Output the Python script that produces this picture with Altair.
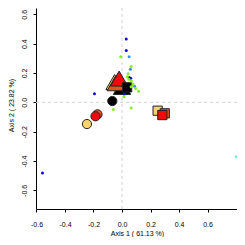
import altair as alt
import pandas as pd

# ---- small points (species / taxa scores) ----
sm_x = [0.030, 0.030, 0.050, 0.061, 0.016, -0.193, -0.558,
        0.050, 0.059, 0.088,
        -0.009, 0.064, 0.043, 0.037, 0.048, 0.066, 0.077, 0.064, 0.095, 0.116, 0.014, 0.064, -0.061,
        0.800]
sm_y = [0.431, 0.354, 0.170, 0.164, 0.057, 0.059, -0.482,
        0.311, 0.225, 0.109,
        0.311, 0.245, 0.195, 0.175, 0.157, 0.145, 0.125, 0.106, 0.095, 0.075, 0.038, -0.039, -0.048,
        -0.371]
sm_group = ["g1"] * 7 + ["g2"] * 3 + ["g3"] * 13 + ["g4"]

# ---- large symbols (sample scores), drawn in this order ----
bg_x = [-0.068, -0.246, -0.172, -0.186,
        0.000, -0.052, -0.044, -0.020,
        0.036, 0.250, 0.300, 0.283]
bg_y = [0.009, -0.148, -0.082, -0.095,
        0.105, 0.138, 0.130, 0.162,
        0.102, -0.057, -0.075, -0.087]
bg_treat = ["control", "low", "mid", "high"] * 3
bg_time = ["t1"] * 4 + ["t2"] * 4 + ["t3"] * 4

x_ticks = [-0.6, -0.4, -0.2, 0.0, 0.2, 0.4, 0.6]
y_ticks = [-0.6, -0.4, -0.2, 0.0, 0.2, 0.4, 0.6]

small = pd.DataFrame({"x": sm_x, "y": sm_y, "group": sm_group})
big = pd.DataFrame({"x": bg_x, "y": bg_y, "treat": bg_treat, "time": bg_time,
                    "order": list(range(len(bg_x)))})

FONT = "Liberation Sans"
xs = alt.Scale(domain=[-0.6035, 0.807], nice=False, zero=False)
ys = alt.Scale(domain=[-0.727, 0.643], nice=False, zero=False)

lab_expr = "replace(format(datum.value, '.1f'), '\u2212', '-')"

xaxis = alt.Axis(values=x_ticks, title="Axis 1 ( 61.13 %)", grid=False,
                 labelExpr=lab_expr, labelFont=FONT, labelFontSize=7, labelColor="black",
                 labelBaseline="alphabetic", labelPadding=14, labelOverlap=False, labelFlush=False,
                 tickSize=3, tickColor="black", domainColor="black", domainWidth=1,
                 titleFont=FONT, titleFontSize=7, titleFontWeight="normal", titleColor="black",
                 titleX=101, titleY=26, titleBaseline="alphabetic", titleAlign="center")
yaxis = alt.Axis(values=y_ticks, title="Axis 2 ( 23.82 %)", grid=False,
                 labelExpr=lab_expr, labelFont=FONT, labelFontSize=7, labelColor="black",
                 labelAngle=270, labelAlign="center", labelBaseline="alphabetic",
                 labelPadding=7, labelOverlap=False, labelFlush=False,
                 tickSize=3, tickColor="black", domainColor="black", domainWidth=1,
                 titleFont=FONT, titleFontSize=7, titleFontWeight="normal", titleColor="black",
                 titleAngle=270, titleX=-23, titleY=97, titleBaseline="alphabetic", titleAlign="center")

vline = alt.Chart(pd.DataFrame({"v": [0.0]})).mark_rule(
    color="#D0D0D0", strokeDash=[3, 3], strokeWidth=1).encode(
    x=alt.X("v:Q", scale=xs, axis=xaxis))
hline = alt.Chart(pd.DataFrame({"v": [0.0]})).mark_rule(
    color="#D0D0D0", strokeDash=[3, 3], strokeWidth=1).encode(
    y=alt.Y("v:Q", scale=ys, axis=yaxis))

bigpts = alt.Chart(big).mark_point(filled=True, stroke="#222222", strokeWidth=1, opacity=1).encode(
    x=alt.X("x:Q", scale=xs, axis=xaxis),
    y=alt.Y("y:Q", scale=ys, axis=yaxis),
    fill=alt.Fill("treat:N", scale=alt.Scale(domain=["control", "low", "mid", "high"],
                                             range=["#000000", "#FAD46B", "#E2561E", "#F00A0A"]),
                  legend=None),
    shape=alt.Shape("time:N", scale=alt.Scale(domain=["t1", "t2", "t3"],
                                              range=["circle", "triangle-up", "square"]),
                    legend=None),
    size=alt.condition(alt.datum.time == "t2", alt.value(300), alt.value(85)),
    order=alt.Order("order:Q"),
)

smallpts = alt.Chart(small).mark_circle(size=9, opacity=1).encode(
    x=alt.X("x:Q", scale=xs, axis=xaxis),
    y=alt.Y("y:Q", scale=ys, axis=yaxis),
    color=alt.Color("group:N", scale=alt.Scale(domain=["g1", "g2", "g3", "g4"],
                                               range=["#0A0AD8", "#3D8BF5", "#84EE1C", "#70F5D0"]),
                    legend=None),
)

chart = alt.layer(vline, hline, bigpts, smallpts).resolve_scale(
    color="independent", fill="independent"
).properties(
    width=201, height=201,
    autosize=alt.AutoSizeParams(type="none"),
    padding={"left": 28, "top": 0, "right": 0, "bottom": 28},
    background="white",
).configure_view(stroke=None)

chart.save("out.html", embed_options={"renderer": "svg", "actions": False})
